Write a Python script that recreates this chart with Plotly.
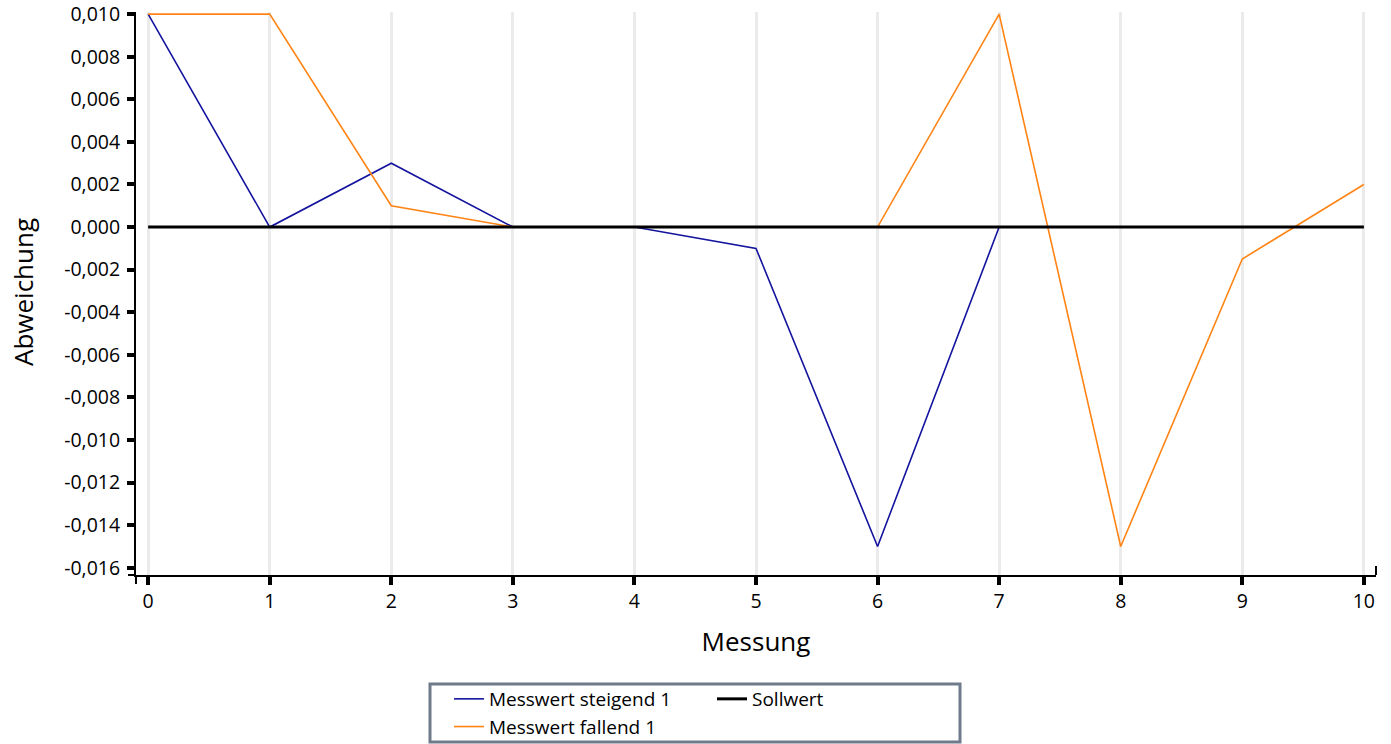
import plotly.graph_objects as go

messung = [0, 1, 2, 3, 4, 5, 6, 7, 8, 9, 10]
steigend = [0.010, 0.000, 0.003, 0.000, 0.000, -0.001, -0.015, 0.000, 0.000, 0.000, 0.000]
fallend = [0.010, 0.010, 0.001, 0.000, 0.000, 0.000, 0.000, 0.010, -0.015, -0.0015, 0.002]
sollwert = [0.0] * 11
y_ticks = [0.010, 0.008, 0.006, 0.004, 0.002, 0.000, -0.002, -0.004, -0.006, -0.008,
           -0.010, -0.012, -0.014, -0.016]
y_ticktext = [f"{v:.3f}".replace(".", ",").replace("-0,000", "0,000") for v in y_ticks]

FONT = "Open Sans"
W, H = 1391, 744
OFF = 0  # body margin removed via post_script
L, T = 136 - OFF, 12 - OFF
R = W - (1376 - OFF)
B = H - (575 - OFF)
PW, PH = W - L - R, H - T - B


def px(xs):
    """screen x -> paper x"""
    return (xs - OFF - L) / PW


def py(ys):
    """screen y -> paper y"""
    return (H - B - (ys - OFF)) / PH


fig = go.Figure()
fig.add_trace(go.Scatter(x=messung, y=steigend, mode="lines", name="Messwert steigend 1",
                         line=dict(color="#14149e", width=1.6), legend="legend",
                         legendgroup="a"))
fig.add_trace(go.Scatter(x=messung, y=fallend, mode="lines", name="Messwert fallend 1",
                         line=dict(color="#ff8414", width=1.6), legend="legend",
                         legendgroup="b"))
fig.add_trace(go.Scatter(x=messung, y=sollwert, mode="lines", name="Sollwert",
                         line=dict(color="black", width=3), legend="legend2"))

fig.update_layout(
    width=W, height=H,
    margin=dict(l=L, r=R, t=T, b=B, autoexpand=False),
    paper_bgcolor="white", plot_bgcolor="white",
    font=dict(family=FONT, size=18, color="black"),
    showlegend=True,
    legend=dict(xref="container", yref="container", x=(449 - OFF) / W,
                y=1 - (680 - OFF) / H,
                xanchor="left", yanchor="top", orientation="v",
                tracegroupgap=11, bgcolor="rgba(0,0,0,0)", font=dict(size=19),
                traceorder="normal"),
    legend2=dict(xref="container", yref="container", x=(712 - OFF) / W,
                 y=1 - (680 - OFF) / H,
                 xanchor="left", yanchor="top", orientation="v",
                 bgcolor="rgba(0,0,0,0)", font=dict(size=19)),
    shapes=[
        dict(type="rect", xref="paper", yref="paper", x0=px(430), x1=px(960),
             y0=py(742), y1=py(684), line=dict(color="#6f7b8a", width=3),
             fillcolor="rgba(0,0,0,0)", layer="above"),
        dict(type="line", xref="paper", yref="paper", x0=0, x1=0, y0=py(584), y1=0,
             line=dict(color="black", width=2)),
        dict(type="line", xref="paper", yref="paper", x0=px(128), x1=0, y0=0, y1=0,
             line=dict(color="black", width=2)),
        dict(type="line", xref="paper", yref="paper", x0=1, x1=1, y0=0, y1=py(566),
             line=dict(color="black", width=2)),
    ],
    annotations=[
        dict(text="Abweichung", textangle=-90, xref="paper", yref="paper",
             x=px(23), y=py(292), xanchor="center", yanchor="middle",
             showarrow=False, font=dict(size=26, family=FONT, color="black")),
    ],
)
fig.update_xaxes(
    range=[-0.1, 10.1], tickvals=messung, ticktext=[str(v) for v in messung],
    showgrid=True, gridcolor="#ebebeb", gridwidth=3,
    showline=True, linecolor="black", linewidth=2,
    ticks="outside", tickwidth=4, ticklen=8, tickcolor="black",
    tickfont=dict(size=19.5), zeroline=False, ticklabeloverflow="allow",
    title=dict(text="Messung", font=dict(size=26), standoff=19),
)
fig.update_yaxes(
    range=[-0.01634, 0.0101], tickvals=y_ticks, ticktext=y_ticktext,
    showgrid=False, zeroline=False, ticklabeloverflow="allow",
    showline=True, linecolor="black", linewidth=2,
    ticks="outside", tickwidth=4, ticklen=7, tickcolor="black",
    tickfont=dict(size=19.5), ticklabelstandoff=3,
)
fig.write_html(
    "out.html",
    config={"displayModeBar": False},
    post_script="document.body.style.margin='0';document.body.style.padding='0';",
)
